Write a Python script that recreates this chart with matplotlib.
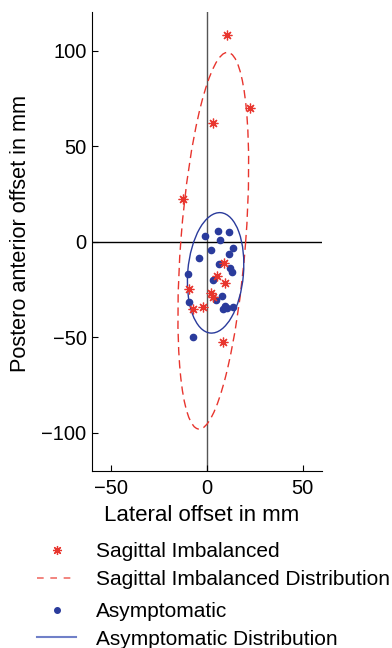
import numpy as np
import matplotlib
matplotlib.use("Agg")
import matplotlib.pyplot as plt
from matplotlib.patches import Ellipse
from matplotlib.lines import Line2D

plt.rcParams['font.family'] = ['Liberation Sans', 'DejaVu Sans']

# Sagittal imbalanced patients (lateral, postero-anterior offsets in mm)
sag_x = [10.6, 22.4, 3.3, -12.3, 8.7, 5.2, 9.5, -9.2, 2.1, 2.9, -1.9, -7.5, 8.3]
sag_y = [108, 70, 62, 22.4, -11.4, -17.8, -21.8, -24.8, -27, -29.1, -34.4, -35.3, -52.4]

# Asymptomatic subjects
asy_x = [-1.0, 5.9, 11.6, 6.6, 13.5, 2.1, 11.3, -4.0, 6.4, 12.0, 12.9,
         -10.0, 3.3, 7.6, 4.7, -9.5, 9.5, 8.2, 10.3, 13.4, -7.3]
asy_y = [2.9, 5.5, 5.3, 0.8, -3.4, -4.1, -6.2, -8.4, -11.7, -14.0, -15.9,
         -17.0, -20.0, -28.3, -30.5, -31.4, -33.7, -35.3, -34.9, -34.4, -49.6]

# distribution ellipses: center, semi-axes, angle (deg)
sag_ell = dict(center=(3.3, 0.5), a=98.8, b=16.9, angle=85.6)
asy_ell = dict(center=(4.5, -16.3), a=31.6, b=14.55, angle=85.1)

red = '#e8352e'
blue = '#2a3b9c'
star = (8, 2, 0)

fig = plt.figure(figsize=(3.92, 6.48), dpi=100)
ax = fig.add_axes([0.235, 0.273, 0.586, 0.708])

ax.axvline(0, color='#555555', lw=1.0, zorder=1)
ax.axhline(0, color='black', lw=1.0, zorder=1)

for ell, col, ls in [(sag_ell, red, (0, (6, 3.5))), (asy_ell, blue, '-')]:
    e = Ellipse(ell['center'], 2 * ell['a'], 2 * ell['b'], angle=ell['angle'],
                fill=False, edgecolor=col, lw=1.0, linestyle=ls, zorder=2)
    ax.add_patch(e)

ax.plot(asy_x, asy_y, 'o', color=blue, ms=4.5, zorder=3)
ax.plot(sag_x, sag_y, linestyle='none', marker=star, color=red,
        ms=7, mew=0.9, zorder=4)

ax.set_xlim(-60, 60)
ax.set_ylim(-120, 120)
ax.set_xticks([-50, 0, 50])
ax.set_yticks([-100, -50, 0, 50, 100])
ax.set_xticklabels(['\u221250', '0', '50'])
ax.set_yticklabels(['\u2212100', '\u221250', '0', '50', '100'])
for s in ['top', 'right']:
    ax.spines[s].set_visible(False)
ax.tick_params(direction='in', length=4, labelsize=14.5)
ax.tick_params(axis='x', pad=6)
ax.tick_params(axis='y', pad=4)
ax.set_xlabel('Lateral offset in mm', fontsize=16)
ax.set_ylabel('Postero anterior offset in mm', fontsize=15.6)
ax.xaxis.set_label_coords(0.475, -0.096)
ax.yaxis.set_label_coords(-0.313, 0.517)
ax.xaxis.label.set_va('center')
ax.yaxis.label.set_va('center')

leg_kw = dict(loc='upper left', frameon=False, fontsize=15, handlelength=1.9,
              handletextpad=0.95, labelspacing=0.42, borderpad=0, borderaxespad=0)

h1 = [Line2D([], [], linestyle='none', marker=star, color=red, ms=6.5, mew=0.9),
      Line2D([], [], color='#f07068', lw=1.2, linestyle=(0, (4, 4)))]
l1 = ['Sagittal Imbalanced', 'Sagittal Imbalanced Distribution']
fig.legend(h1, l1, bbox_to_anchor=(0.094, 0.163), **leg_kw)

h2 = [Line2D([], [], linestyle='none', marker='o', color=blue, ms=4),
      Line2D([], [], color='#7080c8', lw=1.5)]
l2 = ['Asymptomatic', 'Asymptomatic Distribution']
fig.legend(h2, l2, bbox_to_anchor=(0.094, 0.071), **leg_kw)

fig.savefig('out.png', dpi=100)
